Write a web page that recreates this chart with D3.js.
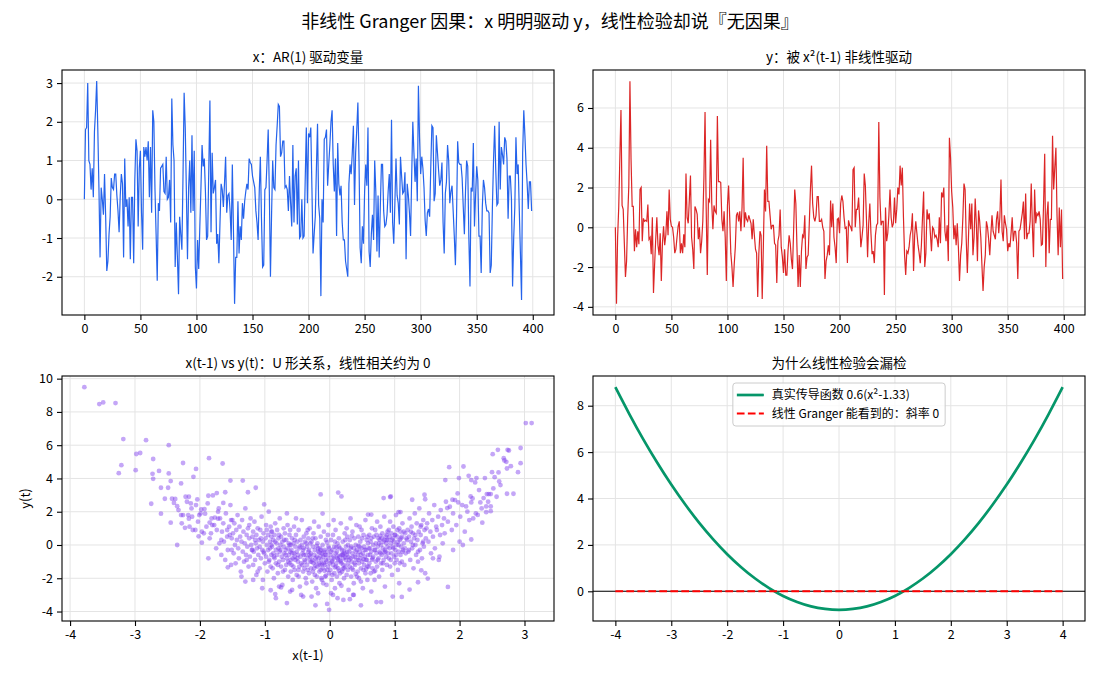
<!DOCTYPE html>
<html>
<head>
<meta charset="utf-8">
<script src="https://cdn.jsdelivr.net/npm/d3@7"></script>
<style>
  body { margin: 0; background: #fff; }
  svg { font-family: "Noto Sans CJK SC", "Noto Sans", sans-serif; }
  .axis text { font-family: "Noto Sans CJK SC", "Noto Sans", sans-serif; font-size: 12.5px; fill: #000; }
  .axis line { stroke: #000; stroke-width: 1.1; }
  .grid line { stroke: #e4e4e4; stroke-width: 1; }
</style>
</head>
<body>
<div id="chart"></div>
<script>
// x(t): AR(1) driver
const xSeries = [
  0.0, 1.8, 1.85, 3.0, 1.0, 0.9, 0.25, 0.8, 0.05, 1.75, 2.3, 3.05, 1.8, 0.3, -1.5, 0.3, 0.0, -0.4, 0.65, -0.45,
  -1.85, -1.6, -0.9, -0.45, 0.55, 0.3, 0.25, 0.65, 0.65, 0.1, -0.3, -0.85, 0.1, 0.65, 0.4, -1.5, 1.05, -0.2, 0.0, -0.7,
  0.05, -1.55, 0.05, 0.05, -1.65, 0.5, 1.55, 1.25, -0.7, 0.8, 1.25, -0.35, -1.3, 1.35, 1.1, 1.35, 1.0, 1.5, 0.05, 1.35,
  -0.35, 2.3, 2.0, 0.25, -0.9, -2.1, -0.1, -0.3, 0.8, 0.85, 0.9, 0.2, 0.15, 1.1, 0.0, 0.05, 0.5, -0.6, 2.6, 1.4,
  1.0, -1.75, -0.6, -1.5, -2.45, -0.45, -0.9, -1.3, 0.6, 2.75, 1.85, 0.2, -1.55, 0.3, 1.0, -0.35, 1.65, -0.3, 1.25, -1.75,
  -2.3, -1.05, -1.8, -0.7, 0.3, 1.4, 0.85, 1.05, 0.2, -1.05, -0.95, 0.8, 2.55, -0.85, 1.2, 0.15, 0.3, 0.5, -1.15, -0.9,
  -1.65, -0.6, 0.4, 0.25, -0.2, 0.4, 1.1, -0.35, 0.1, 0.15, -0.3, -1.05, 0.9, -0.8, -2.7, -1.5, -1.5, -0.05, -1.4, -0.7,
  -1.05, -0.1, -0.5, -0.05, 0.2, 0.4, 0.25, 1.05, 0.95, 0.9, 0.6, 0.45, 0.3, -0.3, -0.6, -1.05, 0.2, 1.1, -0.5, -1.75,
  -1.7, 0.25, 0.3, 1.0, 1.8, 0.2, -2.0, -0.4, 1.0, 0.3, 0.25, 1.4, 1.9, 2.45, 2.4, 1.1, 1.2, 1.5, 1.5, 0.3,
  0.35, 0.25, -0.3, 0.6, -0.1, -0.7, 1.4, -0.6, 0.6, 0.8, -0.65, 1.0, -1.0, -0.95, 0.0, -1.0, -0.95, 0.5, 1.85, -0.1,
  1.7, 1.6, 1.85, 0.3, -1.4, -0.9, -0.45, 0.8, 1.95, -0.15, -0.5, -2.5, 0.0, -0.6, 1.55, 1.6, 1.8, 0.35, 0.9, 1.4,
  2.0, 2.3, 0.9, 0.2, 1.05, -0.95, 1.45, 0.4, 0.1, 0.35, -0.6, -1.05, -1.05, -1.6, -1.8, -2.0, 0.4, 0.9, 0.65, 1.2,
  1.9, -0.15, 1.2, 1.8, 2.5, 1.0, -1.25, -1.65, -0.7, -1.15, 0.2, 0.9, 0.35, 1.85, -1.35, -1.75, -0.9, -0.4, -1.05, 1.0,
  0.2, -1.35, 0.1, -1.5, -0.2, 0.9, 0.9, -0.3, -0.7, -0.65, -0.4, 0.2, 0.65, -0.35, 2.05, -0.6, -1.15, -0.1, 1.05, 0.1,
  -0.1, -0.65, 1.1, 0.6, 0.15, 0.2, 0.7, -1.55, 0.4, 0.1, -0.35, -0.95, 0.6, 2.0, 1.2, 0.45, 1.05, -0.05, 2.93, 1.6,
  0.65, 1.1, 0.8, 0.3, -0.55, -0.95, -0.35, -0.25, -0.45, 0.8, 1.9, 1.85, -0.05, 0.15, 1.65, 1.2, 0.75, 0.35, 0.5, 0.95,
  -0.6, -1.4, 0.15, 0.45, 1.4, 1.0, -0.1, 0.2, 0.35, -0.3, -0.95, -1.7, -0.45, 1.5, 0.95, 0.9, 0.9, 0.55, -0.2, -0.9,
  0.2, 1.0, 0.85, -1.0, -2.25, 0.3, 0.2, 1.45, -0.7, 0.1, 0.85, 0.5, -0.95, -0.95, -1.9, -0.2, 0.5, 0.3, -0.1, -0.3,
  -0.3, -0.35, -1.9, -1.7, -0.2, 1.0, 1.9, 0.75, -0.15, -0.1, 2.0, 0.25, 1.35, 1.15, 0.9, 1.6, 1.5, 1.05, -0.5, 0.6,
  0.6, 0.0, -2.25, -1.0, -0.2, 1.6, 0.65, 0.9, -0.3, -1.4, -2.6, 1.2, 2.3, 1.65, 0.9, 0.4, -0.25, 0.45, 0.45, -0.3
];

// y(t): driven by x^2(t-1)
const ySeries = [
  0.0, -3.85, -0.5, 1.0, 3.5, 5.9, 1.1, 0.9, -0.8, -2.5, -1.7, 0.5, 2.1, 7.35, 3.4, 1.05, 1.05, -1.2, -0.1, -1.0,
  -0.2, -0.85, 1.9, 2.0, -0.7, 0.45, 0.3, 0.35, 0.3, 1.15, -0.6, -0.5, -1.35, 0.5, -3.3, -1.9, -0.6, 0.5, -0.9, -1.4,
  -0.3, -2.7, -0.8, 0.05, -0.9, -0.4, 0.8, -0.4, 1.9, 0.4, 0.05, 0.0, -0.5, -1.3, -1.1, -0.5, 0.05, 0.3, -1.3, -0.8,
  -1.3, -0.35, -1.0, 2.7, 0.5, 0.2, 1.4, 2.6, -0.5, -1.1, -2.1, 1.05, 0.9, 0.65, -0.6, 0.0, -1.3, -0.7, 0.3, 2.5,
  5.8, 1.0, -2.4, 1.4, 1.3, 4.4, 1.2, -0.1, 1.1, 0.8, 0.7, 5.6, 2.3, 2.3, 2.25, 0.4, -0.2, 0.8, -0.5, -2.7,
  1.1, 2.1, 0.5, -1.3, -2.0, -3.0, -1.9, -1.0, 0.6, 0.75, 0.3, 0.8, -0.2, 1.0, 3.5, 0.0, 0.75, 0.4, 0.3, 0.6,
  0.4, 0.2, -0.6, 0.4, -0.4, -1.1, -1.3, -3.5, -1.3, -0.2, -0.4, -3.6, -1.0, 1.9, 0.8, 4.1, 1.3, 1.3, 0.6, -0.1,
  0.1, 0.1, -0.8, -0.9, -2.8, -0.7, -0.4, 0.9, -1.0, -1.5, -2.3, -1.1, -2.4, -2.4, -1.2, -0.4, -0.8, -1.6, -2.1, -0.2,
  1.9, 1.2, -1.0, -3.0, -1.4, -3.0, -1.2, -0.4, -0.5, 0.6, -2.1, -1.5, -1.4, 0.2, 1.9, 3.1, 1.2, 0.5, 0.3, 0.6,
  1.55, 1.55, 0.3, 0.3, 0.4, 0.0, -0.2, -2.6, -1.7, -1.4, -0.9, -1.4, 1.35, 0.0, 1.2, -0.5, -1.0, -1.8, 0.4, 0.45,
  -0.3, 1.2, 1.6, 1.3, 0.5, -0.05, 0.0, -1.8, 0.35, 0.1, 0.0, -0.2, 2.9, 3.0, 0.0, 0.9, 0.9, 1.5, 0.3, -1.0,
  -0.5, 0.1, 2.7, 2.1, 0.4, -1.5, 0.2, 1.2, -0.3, -1.35, -1.2, -1.8, -0.4, 0.1, 0.2, 5.3, 1.5, 0.1, 0.3, 0.3,
  -3.4, 1.0, -0.7, -0.3, 0.6, 1.9, 0.5, 0.0, 0.2, 1.5, 0.2, 0.9, 2.0, 1.65, 3.1, 2.1, 3.0, 0.5, -1.4, -2.4,
  -1.2, -1.3, -1.0, -0.4, -0.1, 0.7, -2.2, -0.4, 0.3, -0.3, -0.9, -1.3, -1.8, -0.9, 0.5, 1.8, -2.0, -1.3, 0.9, 0.4,
  0.7, -0.3, -1.2, 0.0, -0.1, -0.5, -0.4, -0.6, -1.0, 0.5, -0.8, 1.75, 1.5, 2.0, -0.2, -0.7, 0.1, -1.7, 4.5, 3.5,
  1.8, 1.0, -0.6, 0.1, -0.9, 0.2, -1.0, -2.7, -1.4, -0.8, 0.5, 2.2, 1.9, -0.6, -2.3, -0.5, 1.2, -0.1, 1.2, -1.4,
  -0.5, 1.45, 0.2, -1.7, 0.85, 0.3, -0.5, -1.9, -3.2, -2.0, -1.4, 0.3, 0.0, -0.6, -1.4, -0.3, 0.6, -0.2, -0.4, -0.6,
  0.4, 0.8, -0.3, 0.5, 2.4, -0.2, -0.7, 0.6, 0.2, -0.1, -1.2, -0.8, -1.0, -0.3, 0.5, -0.7, -0.2, -0.2, -0.8, -2.6,
  -0.2, -0.1, 0.3, 0.7, 1.3, -0.6, 1.7, -0.6, -0.3, -0.3, 0.3, 2.2, 0.1, -1.5, 1.9, 0.2, 0.7, 0.6, 0.8, 0.4,
  -0.9, -0.85, 1.2, 3.7, -2.0, 0.6, 1.3, -1.3, 0.4, 0.4, 4.6, 1.9, 3.0, 4.0, 0.6, -1.4, 1.0, -1.0, 0.9, -2.6
];

// x(t-1) vs y(t) scatter, bulk of the cloud
const lagCore = [
  [-1.78,1.2],[-1.75,-0.2],[-1.74,0.9],[-1.72,2.0],[-1.70,0.1],[-1.69,1.6],[-1.67,-0.6],[-1.66,0.8],[-1.64,1.3],[-1.63,0.2],
  [-1.61,-0.9],[-1.60,1.9],[-1.58,0.5],[-1.57,-0.3],[-1.55,1.1],[-1.54,0.6],[-1.53,2.4],[-1.52,-1.2],[-1.51,0.4],[-1.50,1.5],
  [-1.49,0.7],[-1.48,-0.5],[-1.47,1.3],[-1.46,0.0],[-1.45,-1.1],[-1.44,0.9],[-1.43,0.3],[-1.42,1.8],[-1.41,-0.2],[-1.40,-0.8],
  [-1.39,1.1],[-1.38,0.5],[-1.37,-1.6],[-1.36,0.2],[-1.35,1.5],[-1.34,-0.4],[-1.33,0.8],[-1.32,-1.0],[-1.31,0.1],[-1.30,2.2],
  [-1.29,-0.6],[-1.28,0.6],[-1.27,-0.1],[-1.26,1.0],[-1.25,-1.3],[-1.24,0.4],[-1.23,-0.7],[-1.22,1.6],[-1.21,0.0],[-1.20,-0.3],
  [-1.19,0.5],[-1.18,-1.2],[-1.18,0.8],[-1.17,-0.4],[-1.16,1.4],[-1.15,-0.9],[-1.14,0.1],[-1.13,-1.8],[-1.13,0.6],[-1.12,-0.2],
  [-1.11,1.0],[-1.10,-0.6],[-1.09,0.3],[-1.08,-1.4],[-1.08,-0.1],[-1.07,0.9],[-1.06,-0.8],[-1.05,1.7],[-1.04,-0.3],[-1.03,0.2],
  [-1.03,-2.1],[-1.02,0.7],[-1.01,-0.5],[-1.00,-1.1],[-0.99,0.4],[-0.98,1.2],[-0.98,-0.7],[-0.97,0.0],[-0.96,-1.6],[-0.95,0.6],
  [-0.95,-0.3],[-0.94,2.0],[-0.93,-0.9],[-0.92,0.2],[-0.92,-0.2],[-0.91,1.1],[-0.91,-1.3],[-0.90,0.5],[-0.90,-0.6],[-0.90,0.8],
  [-0.89,-0.1],[-0.89,0.8],[-0.88,-1.4],[-0.87,-0.5],[-0.87,0.3],[-0.86,-2.0],[-0.85,0.6],[-0.85,-0.8],[-0.84,1.3],[-0.83,-0.3],
  [-0.83,-1.1],[-0.82,0.1],[-0.81,-0.6],[-0.81,0.9],[-0.80,-1.7],[-0.79,-0.2],[-0.79,0.4],[-0.78,-1.0],[-0.77,1.6],[-0.77,-0.4],
  [-0.76,0.0],[-0.75,-1.3],[-0.75,0.5],[-0.74,-0.7],[-0.73,-2.4],[-0.73,0.2],[-0.72,-0.9],[-0.71,1.0],[-0.71,-0.1],[-0.70,-0.5],
  [-0.69,-1.5],[-0.69,0.7],[-0.68,-0.3],[-0.67,0.3],[-0.67,-1.2],[-0.66,-0.8],[-0.65,1.2],[-0.65,-0.2],[-0.64,-1.9],[-0.63,0.1],
  [-0.63,-0.6],[-0.62,0.6],[-0.62,-1.1],[-0.61,-0.4],[-0.61,0.9],[-0.60,0.0],[-0.60,-1.6],[-0.60,-0.9],[-0.61,-2.8],[-0.66,1.9],
  [-0.59,-0.3],[-0.59,-1.2],[-0.58,0.4],[-0.57,-0.8],[-0.57,-2.1],[-0.56,0.1],[-0.55,-0.5],[-0.55,1.1],[-0.54,-1.5],[-0.53,-0.1],
  [-0.53,-0.9],[-0.52,0.6],[-0.51,-0.4],[-0.51,-1.8],[-0.50,0.2],[-0.49,-1.0],[-0.49,-0.6],[-0.48,0.9],[-0.47,-1.3],[-0.47,-0.2],
  [-0.46,-2.5],[-0.45,0.3],[-0.45,-0.7],[-0.44,-1.1],[-0.43,0.0],[-0.43,1.5],[-0.42,-0.5],[-0.41,-1.6],[-0.41,-0.3],[-0.40,0.5],
  [-0.39,-0.9],[-0.39,-1.4],[-0.38,0.2],[-0.37,-0.6],[-0.37,-2.0],[-0.36,0.7],[-0.35,-0.1],[-0.35,-1.2],[-0.34,-0.8],[-0.33,0.4],
  [-0.33,-0.4],[-0.32,-1.7],[-0.31,1.0],[-0.31,-0.6],[-0.30,-1.0],[-0.30,0.1],[-0.58,-2.7],[-0.52,1.6],[-0.44,-3.0],[-0.40,-0.2],
  [-0.36,-2.3],[-0.34,0.9],[-0.48,-1.5],[-0.54,-0.7],[-0.32,-0.3],
  [-0.29,-0.5],[-0.29,-1.4],[-0.28,0.2],[-0.27,-0.9],[-0.27,-2.2],[-0.26,-0.1],[-0.25,-1.1],[-0.25,0.7],[-0.24,-0.6],[-0.23,-1.8],
  [-0.23,-0.3],[-0.22,0.4],[-0.21,-1.0],[-0.21,-2.6],[-0.20,-0.7],[-0.19,0.1],[-0.19,-1.3],[-0.18,-0.4],[-0.17,1.1],[-0.17,-0.8],
  [-0.16,-1.6],[-0.15,-0.2],[-0.15,-1.2],[-0.14,0.5],[-0.13,-0.9],[-0.13,-2.0],[-0.12,-0.5],[-0.11,0.0],[-0.11,-1.4],[-0.10,-0.7],
  [-0.09,0.8],[-0.09,-1.1],[-0.08,-0.3],[-0.07,-1.9],[-0.07,-0.6],[-0.06,0.3],[-0.05,-1.0],[-0.05,-2.4],[-0.04,-0.4],[-0.03,-1.3],
  [-0.03,0.6],[-0.02,-0.8],[-0.01,-1.7],[-0.01,-0.2],[-0.28,-3.1],[-0.24,1.4],[-0.18,-2.9],[-0.14,-1.5],[-0.10,-2.3],[-0.06,-0.9],
  [-0.02,1.2],[-0.26,-1.6],[-0.20,-0.05],[-0.16,-0.45],[-0.12,-1.15],[-0.08,-1.55],[-0.04,0.15],[-0.22,-1.25],[-0.14,-0.65],[-0.06,-1.85],
  [0.01,-0.6],[0.01,-1.5],[0.02,0.3],[0.03,-1.0],[0.03,-2.1],[0.04,-0.3],[0.05,-1.2],[0.05,0.6],[0.06,-0.8],[0.07,-1.7],
  [0.07,-0.1],[0.08,-2.6],[0.09,-0.5],[0.09,0.9],[0.10,-1.1],[0.11,-0.4],[0.11,-1.9],[0.12,0.1],[0.13,-0.9],[0.13,-1.4],
  [0.14,0.4],[0.15,-0.7],[0.15,-2.3],[0.16,-0.2],[0.17,-1.0],[0.17,1.3],[0.18,-0.6],[0.19,-1.6],[0.19,-0.3],[0.20,0.2],
  [0.21,-1.2],[0.21,-0.8],[0.22,-2.0],[0.23,0.7],[0.23,-0.5],[0.24,-1.3],[0.25,-0.1],[0.25,-0.9],[0.26,-1.8],[0.27,0.5],
  [0.27,-0.4],[0.28,-1.1],[0.29,-0.7],[0.29,-2.7],[0.02,-2.9],[0.06,1.5],[0.10,-0.15],[0.14,-1.55],[0.18,-2.45],[0.22,-0.35],
  [0.26,1.0],[0.04,-0.95],[0.08,-1.35],[0.12,-0.65],[0.16,-0.95],[0.20,-1.45],[0.24,-0.75],[0.28,0.0],[0.12,-3.2],[0.20,-0.55],
  [0.30,-0.4],[0.31,-1.3],[0.31,0.3],[0.32,-0.8],[0.33,-1.9],[0.33,-0.1],[0.34,-1.0],[0.35,0.8],[0.35,-0.5],[0.36,-1.5],
  [0.37,-0.2],[0.37,-2.3],[0.38,0.4],[0.39,-0.7],[0.39,-1.2],[0.40,0.0],[0.41,-0.9],[0.41,1.2],[0.42,-0.3],[0.43,-1.6],
  [0.43,-0.6],[0.44,0.5],[0.45,-1.1],[0.45,-2.0],[0.46,-0.4],[0.47,0.2],[0.47,-0.8],[0.48,-1.4],[0.49,0.9],[0.49,-0.2],
  [0.50,-1.0],[0.51,-2.6],[0.51,-0.5],[0.52,0.6],[0.53,-1.2],[0.53,-0.1],[0.54,-0.7],[0.55,1.5],[0.55,-1.7],[0.56,-0.3],
  [0.57,0.3],[0.57,-0.9],[0.58,-1.3],[0.59,0.1],[0.59,-0.6],[0.32,1.6],[0.36,-3.0],[0.40,-1.75],[0.44,-0.05],[0.48,-2.2],
  [0.52,-0.85],[0.56,-1.45],[0.34,0.55],[0.46,1.1],[0.58,-2.1],
  [0.60,-0.2],[0.61,-1.1],[0.61,0.6],[0.62,-0.6],[0.63,-1.7],[0.63,0.2],[0.64,-0.4],[0.65,1.0],[0.65,-0.9],[0.66,-1.4],
  [0.67,0.0],[0.67,-0.7],[0.68,0.5],[0.69,-2.1],[0.69,-0.3],[0.70,0.9],[0.71,-1.0],[0.71,0.1],[0.72,-0.5],[0.73,1.4],
  [0.73,-1.3],[0.74,-0.1],[0.75,0.4],[0.75,-0.8],[0.76,-1.9],[0.77,0.3],[0.77,-0.4],[0.78,1.1],[0.79,-1.1],[0.79,0.0],
  [0.80,-0.6],[0.81,0.7],[0.81,-1.5],[0.82,-0.2],[0.83,0.2],[0.83,-0.9],[0.84,1.7],[0.85,-0.3],[0.85,-2.5],[0.86,0.5],
  [0.87,-0.7],[0.87,0.1],[0.88,-1.2],[0.89,0.8],[0.89,-0.1],[0.64,-2.8],[0.70,-1.55],[0.78,0.55],[0.84,-0.45],[0.88,0.3],
  [0.90,0.3],[0.91,-0.8],[0.91,0.9],[0.92,-0.2],[0.93,1.4],[0.93,-1.3],[0.94,0.1],[0.95,-0.5],[0.95,0.7],[0.96,-1.8],
  [0.97,0.4],[0.97,-0.1],[0.98,1.1],[0.99,-0.7],[0.99,0.2],[1.00,-1.1],[1.01,0.6],[1.01,-0.3],[1.02,1.8],[1.03,0.0],
  [1.03,-0.9],[1.04,0.5],[1.05,-1.5],[1.05,0.2],[1.06,-0.4],[1.07,1.0],[1.07,-2.3],[1.08,0.3],[1.09,-0.6],[1.09,0.8],
  [1.10,-0.1],[1.11,-1.0],[1.11,0.5],[1.12,1.3],[1.13,-0.3],[1.14,0.1],[1.15,-1.2],[1.16,0.7],[1.17,-0.5],[1.18,0.4],
  [1.20,0.9],[1.21,-0.4],[1.22,0.5],[1.23,1.6],[1.24,-0.9],[1.25,0.2],[1.26,1.1],[1.27,-0.2],[1.28,0.7],[1.29,-1.4],
  [1.30,0.4],[1.31,1.9],[1.32,0.0],[1.33,-0.6],[1.34,1.3],[1.35,0.3],[1.36,-1.0],[1.37,0.8],[1.38,2.2],[1.39,-0.3],
  [1.40,0.6],[1.41,1.2],[1.42,-0.8],[1.43,0.1],[1.44,1.5],[1.45,-0.1],[1.46,0.9],[1.47,-1.7],[1.48,0.4],[1.49,1.0],
  [1.50,1.3],[1.52,0.2],[1.53,1.9],[1.55,0.8],[1.56,-0.5],[1.58,1.5],[1.59,0.5],[1.61,2.4],[1.62,-0.2],[1.64,1.1],
  [1.65,0.9],[1.67,1.7],[1.68,-0.9],[1.70,0.6],[1.71,2.1],[1.73,1.2],[1.74,0.1],[1.76,1.6],[1.77,0.7],[1.79,2.6],
  [1.82,1.4],[1.85,2.3],[1.88,0.9],[1.90,1.9],[1.93,2.7],[1.95,1.2],[1.97,3.1],[2.01,1.7],[2.04,2.4],[2.08,0.8],
  [2.12,2.0],[2.15,1.5],[2.20,2.8],[2.25,1.9],[2.30,3.3],[2.34,2.2],[2.44,2.6],[2.52,3.4],[2.57,2.9],
  [-1.82,1.6],[-1.85,0.4],[-1.88,2.5],[-1.90,1.1],[-1.94,0.7],[-1.99,1.9],[-2.03,1.4],[-2.07,0.9],[-2.13,2.2],[-2.18,1.8],
  [-2.22,2.9],[-2.28,1.3]
];

// extra points where the cloud is densest
const lagDense = [
  [-1.28,-0.9],[-1.24,1.2],[-1.19,-0.3],[-1.15,0.3],[-1.11,-1.6],[-1.06,0.4],[-1.02,-0.4],[-0.97,0.9],[-0.94,-1.0],[-0.90,0.0],
  [-0.86,-0.7],[-0.84,0.2],[-0.80,-1.2],[-0.78,0.6],[-0.76,-0.3],[-0.72,-1.6],[-0.70,0.3],[-0.68,-0.6],[-0.64,-1.0],[-0.62,0.0],
  [-0.58,-0.5],[-0.56,-1.3],[-0.54,0.3],[-0.50,-0.8],[-0.48,-1.9],[-0.46,-0.1],[-0.42,-1.2],[-0.40,-0.6],[-0.38,-1.0],[-0.36,0.1],
  [-0.34,-1.5],[-0.30,-0.7],[-0.28,-1.0],[-0.26,0.4],[-0.24,-1.4],[-0.22,-0.8],[-0.20,-1.9],[-0.18,-0.2],[-0.16,-1.1],[-0.14,-0.3],
  [-0.12,-2.1],[-0.10,-0.4],[-0.08,-1.2],[-0.06,-0.6],[-0.04,-1.5],[-0.02,-0.1],[0.00,-1.1],[0.02,-0.4],[0.04,-1.8],[0.06,-0.7],
  [0.08,0.2],[0.10,-1.3],[0.12,-0.8],[0.14,-0.1],[0.16,-1.7],[0.18,-1.1],[0.20,-0.6],[0.22,-1.4],[0.24,0.3],[0.26,-0.6],
  [0.28,-1.5],[0.30,-0.9],[0.32,-0.2],[0.34,-1.4],[0.36,-0.7],[0.38,-1.1],[0.40,-0.4],[0.42,-1.9],[0.44,-0.9],[0.46,-0.1],
  [0.48,-0.6],[0.50,0.4],[0.52,-1.5],[0.54,-0.3],[0.56,-0.9],[0.58,0.5],[0.60,-1.3],[0.62,-0.2],[0.64,0.4],[0.66,-0.8],
  [0.68,-1.6],[0.70,-0.3],[0.72,0.6],[0.74,-0.9],[0.76,0.1],[0.78,-0.5],[0.80,0.4],[0.82,-1.1],[0.84,0.3],[0.86,-0.4],
  [0.88,0.6],[0.90,-0.5],[0.92,0.5],[0.94,-0.9],[0.96,0.3],[0.98,-0.2],[1.00,0.6],[1.02,-0.6],[1.04,0.9],[1.06,0.0],
  [1.08,-1.1],[1.10,0.4],[1.12,-0.4],[1.14,0.8],[1.16,-0.2],[1.19,0.3],[1.22,-0.3],[1.25,0.8],[1.28,0.0],[1.32,0.6],
  [1.36,-0.4],[1.40,1.1],[1.44,0.2]
];

// x(t-1) vs y(t) scatter, the sparse arms and outliers
const lagTails = [
  [-3.78,9.49],[-3.55,8.47],[-3.49,8.57],[-3.30,8.53],[-3.18,6.37],[-3.21,4.80],[-3.25,4.32],[-2.99,4.50],[-2.98,5.47],[-2.92,5.53],
  [-2.83,6.30],[-2.72,5.17],[-2.73,4.28],[-2.72,3.98],[-2.75,2.48],[-2.63,4.45],[-2.60,3.44],[-2.60,1.88],[-2.54,2.78],[-2.49,3.44],
  [-2.48,6.00],[-2.48,4.30],[-2.45,3.84],[-2.45,1.34],[-2.43,2.78],[-2.40,2.53],[-2.38,2.77],[-2.35,2.33],[-2.35,0.00],[-2.33,2.10],
  [-2.29,3.70],[-2.29,1.80],[-2.26,4.93],[-2.26,1.80],[-2.23,1.03],[-2.20,2.60],[-2.17,2.90],[-2.17,1.58],[-2.16,1.10],[-2.14,2.50],
  [-2.12,1.70],[-2.11,0.90],[-2.10,4.10],[-2.06,4.57],[-2.06,2.40],[-2.04,2.74],[-2.02,0.52],[-2.01,1.80],[-1.98,2.14],[-1.97,0.80],
  [-1.97,0.14],[-1.93,2.16],[-1.92,1.88],[-1.87,2.96],[-1.86,5.22],[-1.85,1.35],[-1.83,0.70],[-1.81,1.20],[-1.80,2.98],[-1.77,1.65],
  [-1.74,3.12],[-1.72,1.58],[-1.71,2.20],[-1.67,0.30],[-1.65,4.90],[-1.64,2.53],[-1.61,3.17],[-1.58,0.90],[-1.57,-1.34],[-1.53,3.87],
  [-1.52,1.50],[-1.51,-0.30],[-1.34,3.87],[-1.26,3.17],[-1.14,3.44],[-1.01,2.44],[-1.04,-2.60],[-0.91,-2.72],[-0.84,-2.95],[-0.83,-3.20],
  [-0.66,-3.49],[-0.78,-2.50],[-0.75,-2.55],[-1.87,-0.80],[-1.36,-1.90],[-1.30,-2.20],[-1.18,-2.10],
  [3.02,7.33],[3.11,7.33],[2.94,5.83],[2.94,4.92],[2.90,4.38],[2.83,3.08],[2.73,3.08],[2.76,5.68],[2.74,5.72],[2.68,5.22],
  [2.69,5.08],[2.72,5.00],[2.73,4.60],[2.79,4.74],[2.59,5.72],[2.51,5.46],[2.50,4.38],[2.54,4.08],[2.61,3.82],[2.63,3.60],
  [2.60,4.36],[2.39,4.02],[2.26,4.02],[2.14,4.16],[2.18,3.90],[2.24,3.76],[1.84,4.68],[2.06,4.72],[1.99,4.02],[1.78,3.90],
  [2.42,3.06],[2.45,3.06],[2.48,3.06],[2.37,2.82],[2.32,2.56],[2.41,2.32],[2.48,2.32],[2.17,2.92],[2.18,2.56],[2.10,2.32],
  [1.98,2.56],[1.89,2.72],[1.81,2.22],[1.46,3.02],[1.47,2.75],[1.27,2.72],[0.94,2.92],[0.93,2.88],[0.83,2.82],[0.18,2.92],
  [0.13,3.15],[-0.14,3.04],[-0.11,1.89],[0.59,1.83],[0.64,1.83],[1.06,1.97],[1.09,1.98],[2.21,1.60],[2.35,1.34],[2.28,1.81],
  [2.41,1.97],[2.48,2.03],[1.82,-2.52],[1.51,-2.02],[1.41,-1.52],[1.36,-2.24],[1.23,-2.68],[1.11,-3.12],[0.97,-3.10],[0.79,-3.43],
  [0.72,-3.43],[0.48,-3.63],[-0.01,-3.90],[-0.04,-3.54],[-0.22,-3.63],[-0.41,-3.10],[0.37,-3.00],[0.31,-3.26],[0.21,-3.30],[0.05,-3.00],
  [1.69,-0.70],[1.59,-0.80],[2.05,0.00],[2.18,0.33],[2.00,0.20],[1.90,-0.30]
];

// true transfer curve, read at quarter steps
const curveX = [-4, -3.75, -3.5, -3.25, -3, -2.75, -2.5, -2.25, -2, -1.75, -1.5, -1.25, -1, -0.75, -0.5, -0.25, 0,
  0.25, 0.5, 0.75, 1, 1.25, 1.5, 1.75, 2, 2.25, 2.5, 2.75, 3, 3.25, 3.5, 3.75, 4];
const curveY = [8.80, 7.64, 6.55, 5.54, 4.60, 3.74, 2.95, 2.24, 1.60, 1.04, 0.55, 0.14, -0.20, -0.46, -0.65, -0.76, -0.80,
  -0.76, -0.65, -0.46, -0.20, 0.14, 0.55, 1.04, 1.60, 2.24, 2.95, 3.74, 4.60, 5.54, 6.55, 7.64, 8.80];
// what a linear test sees
const slopeX = [-4, 4];
const slopeY = [0, 0];

// tick labels per panel
const tsTicksX = [0, 50, 100, 150, 200, 250, 300, 350, 400];
const xTicksY = [-2, -1, 0, 1, 2, 3];
const yTicksY = [-4, -2, 0, 2, 4, 6];
const lagTicksX = [-4, -3, -2, -1, 0, 1, 2, 3];
const lagTicksY = [-4, -2, 0, 2, 4, 6, 8, 10];
const fnTicksX = [-4, -3, -2, -1, 0, 1, 2, 3, 4];
const fnTicksY = [0, 2, 4, 6, 8];

const W = 1100, H = 680;

const svg = d3.select("#chart").append("svg")
  .attr("width", W).attr("height", H)
  .style("background", "#fff");

svg.append("text")
  .attr("x", W / 2).attr("y", 28)
  .attr("text-anchor", "middle")
  .style("font-size", "18px")
  .text("非线性 Granger 因果：x 明明驱动 y，线性检验却说『无因果』");

// matplotlib-style 5% margins
function padded(ext) {
  const m = (ext[1] - ext[0]) * 0.05;
  return [ext[0] - m, ext[1] + m];
}

let clipCount = 0;

function makePanel(box, xDomain, yDomain, xTicks, yTicks, title) {
  const x = d3.scaleLinear().domain(xDomain).range([box.x0, box.x1]);
  const y = d3.scaleLinear().domain(yDomain).range([box.y1, box.y0]);
  const g = svg.append("g");

  // Grid
  const grid = g.append("g").attr("class", "grid");
  grid.selectAll(".gx").data(xTicks).join("line")
    .attr("x1", d => x(d)).attr("x2", d => x(d))
    .attr("y1", box.y0).attr("y2", box.y1);
  grid.selectAll(".gy").data(yTicks).join("line")
    .attr("x1", box.x0).attr("x2", box.x1)
    .attr("y1", d => y(d)).attr("y2", d => y(d));

  const id = "clip" + clipCount++;
  g.append("clipPath").attr("id", id).append("rect")
    .attr("x", box.x0).attr("y", box.y0)
    .attr("width", box.x1 - box.x0).attr("height", box.y1 - box.y0);
  const plot = g.append("g").attr("clip-path", "url(#" + id + ")");

  // Frame
  g.append("rect")
    .attr("x", box.x0).attr("y", box.y0)
    .attr("width", box.x1 - box.x0).attr("height", box.y1 - box.y0)
    .attr("fill", "none").attr("stroke", "#000").attr("stroke-width", 1.1);

  g.append("g").attr("class", "axis")
    .attr("transform", "translate(0," + box.y1 + ")")
    .call(d3.axisBottom(x).tickValues(xTicks).tickSize(5).tickPadding(4).tickFormat(d => String(d)))
    .call(a => a.select(".domain").remove());

  g.append("g").attr("class", "axis")
    .attr("transform", "translate(" + box.x0 + ",0)")
    .call(d3.axisLeft(y).tickValues(yTicks).tickSize(5).tickPadding(4).tickFormat(d => String(d)))
    .call(a => a.select(".domain").remove());

  g.append("text")
    .attr("x", (box.x0 + box.x1) / 2).attr("y", box.y0 - 8)
    .attr("text-anchor", "middle")
    .style("font-size", "13.5px")
    .text(title);

  return { x, y, plot, g, box };
}

// Top-left: x series
const tl = makePanel({ x0: 62, x1: 554, y0: 70, y1: 315 },
  padded([0, xSeries.length - 1]), padded(d3.extent(xSeries)),
  tsTicksX, xTicksY, "x：AR(1) 驱动变量");
tl.plot.append("path")
  .datum(xSeries)
  .attr("fill", "none").attr("stroke", "#2563eb").attr("stroke-width", 1.2)
  .attr("d", d3.line().x((d, i) => tl.x(i)).y(d => tl.y(d)));

// Top-right: y series
const tr = makePanel({ x0: 593, x1: 1085, y0: 70, y1: 315 },
  padded([0, ySeries.length - 1]), padded(d3.extent(ySeries)),
  tsTicksX, yTicksY, "y：被 x²(t-1) 非线性驱动");
tr.plot.append("path")
  .datum(ySeries)
  .attr("fill", "none").attr("stroke", "#dc2626").attr("stroke-width", 1.2)
  .attr("d", d3.line().x((d, i) => tr.x(i)).y(d => tr.y(d)));

// Bottom-left: scatter
const lagPairs = lagCore.concat(lagDense, lagTails);
const bl = makePanel({ x0: 62, x1: 554, y0: 376, y1: 621 },
  padded(d3.extent(lagPairs, d => d[0])), padded(d3.extent(lagPairs, d => d[1])),
  lagTicksX, lagTicksY, "x(t-1) vs y(t)：U 形关系，线性相关约为 0");
bl.plot.selectAll("circle").data(lagPairs).join("circle")
  .attr("cx", d => bl.x(d[0])).attr("cy", d => bl.y(d[1]))
  .attr("r", 2.4)
  .attr("fill", "#7c3aed").attr("fill-opacity", 0.45);

svg.append("text")
  .attr("x", 308).attr("y", 660)
  .attr("text-anchor", "middle")
  .style("font-size", "13px")
  .text("x(t-1)");
svg.append("text")
  .attr("transform", "translate(30,498.5) rotate(-90)")
  .attr("text-anchor", "middle")
  .style("font-size", "13px")
  .text("y(t)");

// Bottom-right: transfer function vs linear view
const br = makePanel({ x0: 593, x1: 1085, y0: 376, y1: 621 },
  padded(d3.extent(curveX)), padded(d3.extent(curveY)),
  fnTicksX, fnTicksY, "为什么线性检验会漏检");

br.plot.append("line")
  .attr("x1", br.box.x0).attr("x2", br.box.x1)
  .attr("y1", br.y(0)).attr("y2", br.y(0))
  .attr("stroke", "#000").attr("stroke-width", 1.1);

br.plot.append("path")
  .datum(d3.zip(curveX, curveY))
  .attr("fill", "none").attr("stroke", "#059669").attr("stroke-width", 2.7)
  .attr("d", d3.line().x(d => br.x(d[0])).y(d => br.y(d[1])).curve(d3.curveNatural));

br.plot.append("path")
  .datum(d3.zip(slopeX, slopeY))
  .attr("fill", "none").attr("stroke", "red").attr("stroke-width", 2.1)
  .attr("stroke-dasharray", "7.7,3.3")
  .attr("d", d3.line().x(d => br.x(d[0])).y(d => br.y(d[1])));

// Legend, upper center
const legendItems = [
  { label: "真实传导函数 0.6(x²-1.33)", color: "#059669", dash: null, width: 2.7 },
  { label: "线性 Granger 能看到的：斜率 0", color: "red", dash: "7.7,3.3", width: 2.1 },
];
const legend = br.g.append("g");
const legendBox = legend.append("rect")
  .attr("fill", "#fff").attr("fill-opacity", 0.8)
  .attr("stroke", "#cccccc").attr("stroke-width", 1).attr("rx", 3);
const rowGap = 18.5;
let maxW = 0;
legendItems.forEach((item, i) => {
  const cy = 395 + i * rowGap;
  legend.append("line")
    .attr("x1", 0).attr("x2", 27)
    .attr("y1", cy).attr("y2", cy)
    .attr("stroke", item.color).attr("stroke-width", item.width)
    .attr("stroke-dasharray", item.dash);
  const t = legend.append("text")
    .attr("x", 35).attr("y", cy + 4.2)
    .style("font-size", "12px")
    .text(item.label);
  maxW = Math.max(maxW, t.node().getComputedTextLength());
});
const legW = 4 + 27 + 8 + maxW + 6;
const legX = (br.box.x0 + br.box.x1) / 2 - legW / 2;
legend.attr("transform", "translate(" + (legX + 4) + ",0)");
legendBox.attr("x", -4).attr("y", 383).attr("width", legW).attr("height", 43);
</script>
</body>
</html>
